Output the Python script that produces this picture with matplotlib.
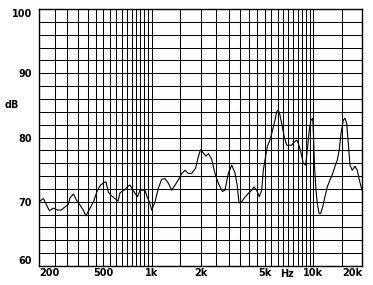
import numpy as np
import matplotlib
matplotlib.use('Agg')
import matplotlib.pyplot as plt
import matplotlib.transforms as mtransforms

# frequency response
freq = [200, 213, 232, 245, 262, 274, 290, 304, 311, 327, 342, 359, 376, 390, 404,
        435, 460, 481, 505, 520, 537, 558, 591, 617, 635, 672, 711, 732, 786, 815,
        844, 907, 933, 964, 998, 1046, 1096, 1150, 1206, 1264, 1327, 1391, 1458,
        1530, 1604, 1681, 1764, 1862, 1938, 2000, 2081, 2162, 2241, 2346, 2459,
        2577, 2736, 2835, 2972, 3120, 3270, 3379, 3462, 3597, 3770, 3952, 4149,
        4288, 4456, 4625, 4786, 4897, 5017, 5184, 5386, 5597, 5784, 5925, 6062,
        6211, 6418, 6604, 6833, 7091, 7338, 7616, 7881, 8064, 8344, 8659, 8960,
        9220, 9433, 9664, 9900, 10014, 10160, 10379, 10571, 10830, 11097, 11418,
        11797, 12190, 12670, 13168, 13606, 14061, 14466, 14823, 15316, 15691,
        16078, 16448, 16852, 17415, 18098, 18702, 19241, 20000]
spl = [70.0, 70.5, 68.6, 69.0, 68.7, 68.7, 69.2, 69.6, 70.6, 71.2, 70.2, 69.5, 68.7,
       67.8, 68.5, 70.0, 71.8, 72.6, 73.0, 73.1, 71.5, 71.0, 70.5, 70.1, 71.4, 71.8,
       72.4, 72.6, 71.3, 70.8, 71.8, 71.8, 70.8, 70.0, 68.7, 70.0, 72.1, 73.5, 73.6,
       72.9, 71.8, 72.6, 73.4, 74.4, 74.9, 74.4, 74.4, 75.2, 77.0, 78.1, 77.6, 77.1,
       77.5, 76.6, 74.4, 72.9, 71.6, 71.8, 74.4, 75.7, 74.5, 72.5, 69.8, 70.0, 70.7,
       71.3, 71.8, 72.3, 71.8, 70.8, 71.8, 74.9, 76.5, 78.6, 79.6, 81.2, 82.7, 84.0,
       84.3, 83.5, 81.7, 80.1, 78.8, 78.8, 78.8, 79.3, 79.6, 79.1, 77.8, 76.0, 75.7,
       78.6, 81.2, 82.7, 83.0, 80.6, 75.5, 71.8, 69.8, 68.2, 68.2, 69.2, 70.8, 72.3,
       73.4, 74.4, 75.5, 76.5, 78.1, 80.6, 82.7, 83.0, 82.2, 79.1, 75.7, 74.9, 75.5,
       74.9, 73.4, 71.8]

x_labels = {200: '200', 500: '500', 1000: '1k', 2000: '2k', 5000: '5k',
            10000: '10k', 20000: '20k'}
y_labels = [60, 70, 80, 90, 100]

# grid lines of the log paper
grid_x = list(range(200, 1001, 50)) + [1500] + list(range(2000, 10001, 500)) + [15000, 20000]
grid_y = list(range(60, 101, 2))

plt.rcParams['font.family'] = 'DejaVu Sans'
plt.rcParams['font.size'] = 7
plt.rcParams['font.weight'] = 'bold'

fig = plt.figure(figsize=(3.73, 2.85), dpi=100)
ax = fig.add_axes([39 / 373, 1 - 266 / 285, 323 / 373, 257 / 285])

ax.plot(freq, spl, color='black', lw=0.8)

ax.set_xscale('log')
ax.set_xlim(200, 20000)
ax.set_ylim(60, 100)

ax.set_xticks(grid_x)
ax.set_xticks([], minor=True)
ax.set_xticklabels([x_labels.get(f, '') for f in grid_x])
ax.set_yticks(grid_y)
ax.set_yticklabels([str(v) if v in y_labels else '' for v in grid_y])
ax.tick_params(length=0)
ax.tick_params(axis='x', pad=1.5)
ax.tick_params(axis='y', pad=5)
ax.grid(True, color='black', lw=0.75)
for s in ax.spines.values():
    s.set_linewidth(1.0)

for t in ax.get_xticklabels():
    if t.get_text() == '200':
        t.set_ha('left')
    if t.get_text() == '20k':
        t.set_ha('right')
for t in ax.get_yticklabels():
    if t.get_text() == '100':
        t.set_va('top')
    if t.get_text() == '60':
        t.set_va('bottom')

trans = mtransforms.blended_transform_factory(ax.transData, ax.transAxes)
ax.text(6900, -0.0125, 'Hz', transform=trans, ha='center', va='top')
ax.text(-0.084, 85, 'dB', transform=mtransforms.blended_transform_factory(ax.transAxes, ax.transData),
        ha='center', va='center')

fig.savefig('out.png', dpi=100)
